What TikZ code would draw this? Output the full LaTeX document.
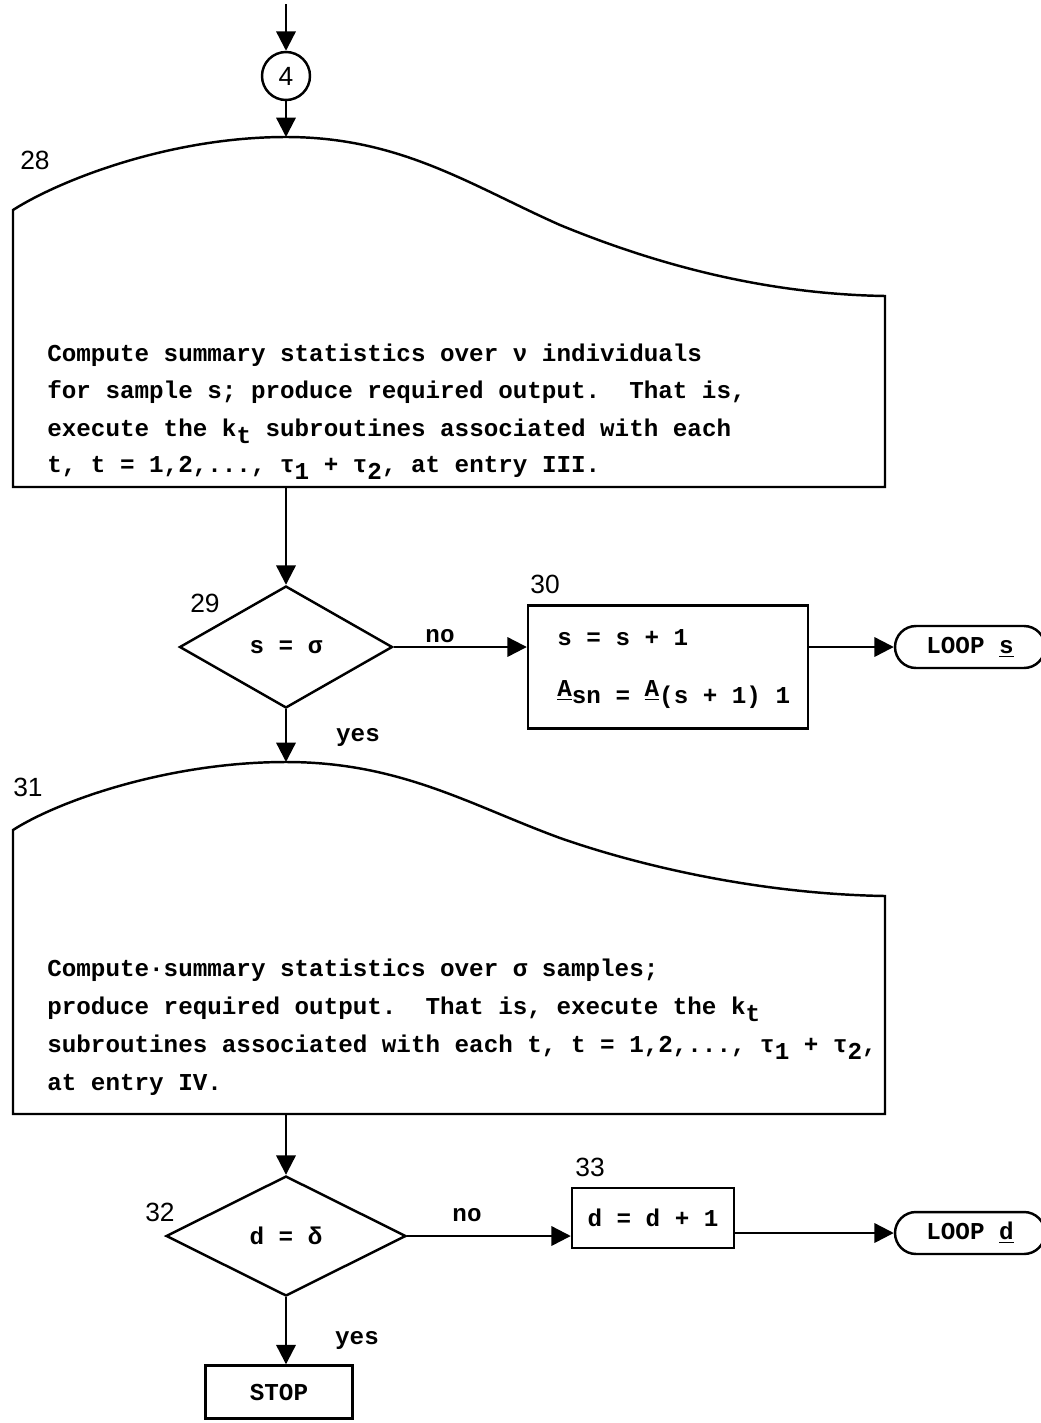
\documentclass[tikz,border=0pt]{standalone}
\usepackage{fontspec}
\setmainfont{Liberation Mono}
\newfontfamily\handfont{Liberation Sans}
\usetikzlibrary{arrows.meta,shapes.geometric,shapes.misc}

\newcommand{\lowch}[1]{\raisebox{-0.6ex}{#1}}

\tikzset{
  flow/.style={-{Triangle[length=11pt,width=11pt]}, line width=1.3pt},
  border/.style={line width=1.4pt},
  typed/.style={font=\fontsize{13.8}{16}\selectfont\bfseries\frenchspacing, inner sep=0pt},
  numlabel/.style={font=\handfont\fontsize{15}{18}\selectfont, inner sep=0pt},
  decision/.style={draw, border, diamond, inner sep=0pt, typed},
  stepbox/.style={draw, border, rectangle, inner sep=0pt},
  terminal/.style={draw, border, rounded rectangle, inner sep=0pt, typed, minimum width=3cm, minimum height=0.84cm},
}

\begin{document}
\begin{tikzpicture}[x=0.02cm, y=-0.02cm]
  \useasboundingbox (0,0) rectangle (1041,1423);

  % entry connector
  \coordinate (entry) at (286,4);
  \node[draw, border, circle, minimum size=0.96cm, inner sep=0pt, numlabel] (c4) at (286,76) {4};

  % block 28
  \coordinate (b28top) at (286,137);
  \coordinate (b28bot) at (286,487);
  \draw[border] (13,487) -- (13,210) .. controls (60,180) and (170,137) .. (b28top)
    .. controls (400,137) and (470,185) .. (560,225)
    .. controls (650,262) and (760,294) .. (885,296) -- (885,487) -- cycle;
  \node[numlabel] (n28) at (35,160) {28};
  \node[typed, anchor=base west] (t28a) at (47,361) {Compute summary statistics over ν individuals};
  \node[typed, anchor=base west] (t28b) at (47,398) {for sample s; produce required output.~ That is,};
  \node[typed, anchor=base west] (t28c) at (47,436) {execute the k\lowch{t} subroutines associated with each};
  \node[typed, anchor=base west] (t28d) at (47,472) {t, t = 1,2,..., τ\lowch{1} + τ\lowch{2}, at entry III.};

  % decision 29 and block 30
  \node[decision, minimum width=4.26cm, minimum height=2.44cm] (d29) at (286,647) {s = σ};
  \node[numlabel] (n29) at (205,603) {29};
  \node[typed] (no29) at (440,636) {no};
  \node[typed] (yes29) at (358,737) {yes};
  \node[stepbox, minimum width=5.6cm, minimum height=2.46cm] (b30) at (668,667) {};
  \node[numlabel] (n30) at (545,584) {30};
  \node[typed, anchor=base west] (t30a) at (557,645) {s = s + 1};
  \node[typed, anchor=base west] (t30b) at (557,703) {\raisebox{0.5ex}{\underline{A}}sn = \raisebox{0.5ex}{\underline{A}}(s + 1) 1};
  \node[terminal] (ls) at (970,647) {LOOP \underline{s}};

  % block 31
  \coordinate (b31top) at (286,762);
  \coordinate (b31bot) at (286,1114);
  \draw[border] (13,1114) -- (13,830) .. controls (60,800) and (170,762) .. (b31top)
    .. controls (400,762) and (470,805) .. (560,838)
    .. controls (640,866) and (760,894) .. (885,896) -- (885,1114) -- cycle;
  \node[numlabel] (n31) at (28,787) {31};
  \node[typed, anchor=base west] (t31a) at (47,976) {Compute·summary statistics over σ samples;};
  \node[typed, anchor=base west] (t31b) at (47,1014) {produce required output.~ That is, execute the k\lowch{t}};
  \node[typed, anchor=base west] (t31c) at (47,1052) {subroutines associated with each t, t = 1,2,..., τ\lowch{1} + τ\lowch{2},};
  \node[typed, anchor=base west] (t31d) at (47,1090) {at entry IV.};

  % decision 32, block 33, stop
  \node[decision, minimum width=4.8cm, minimum height=2.4cm] (d32) at (286,1236) {d = δ};
  \node[numlabel] (n32) at (160,1212) {32};
  \node[typed] (no32) at (467,1215) {no};
  \node[typed] (yes32) at (357,1340) {yes};
  \node[stepbox, typed, minimum width=3.24cm, minimum height=1.2cm] (b33) at (653,1218) {d = d + 1};
  \node[numlabel] (n33) at (590,1167) {33};
  \node[terminal] (ld) at (970,1233) {LOOP \underline{d}};
  \node[stepbox, typed, minimum width=2.94cm, minimum height=1.06cm] (stop) at (279,1392) {STOP};

  % connectors
  \draw[flow] (entry) -- (c4);
  \draw[flow] (c4) -- (b28top);
  \draw[flow] (b28bot) -- (d29);
  \draw[flow] (d29) -- (d29.east -| b30.west);
  \draw[flow] (b30.east |- ls.west) -- (ls);
  \draw[flow] (d29) -- (b31top);
  \draw[flow] (b31bot) -- (d32);
  \draw[flow] (d32) -- (d32.east -| b33.west);
  \draw[flow] (b33.east |- ld.west) -- (ld);
  \draw[flow] (d32.south) -- (d32.south |- stop.north);
\end{tikzpicture}
\end{document}
